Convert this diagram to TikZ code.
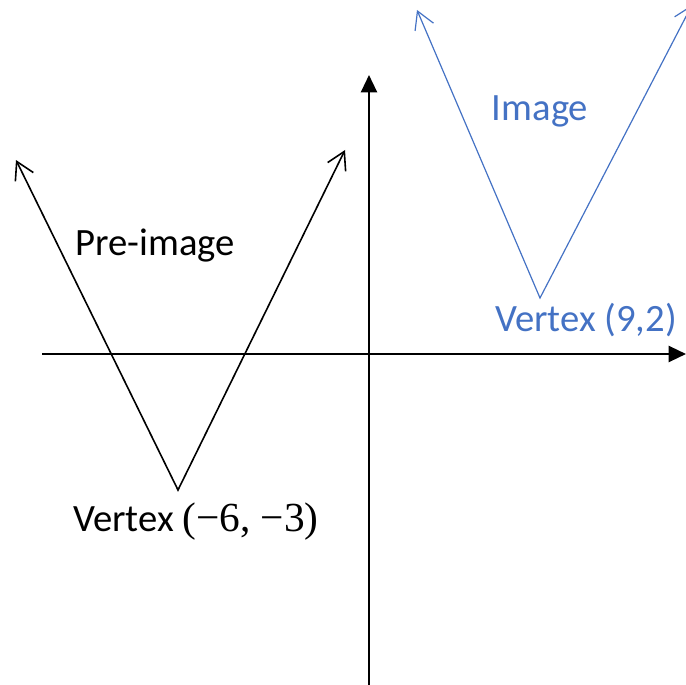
\documentclass[tikz,border=0pt]{standalone}
\definecolor{officeBlue}{RGB}{68, 114, 196}
\usepackage{fontspec}
\setmainfont{Carlito}
\newfontfamily\mathlike{Liberation Serif}
\usepackage{tikz}
\usetikzlibrary{arrows.meta}

\begin{document}
\begin{tikzpicture}[
          x=0.75pt, y=-0.75pt,
          axis/.style={line width=1.7pt, -{Triangle[length=13pt, width=12pt]}},
          graph/.style={line width=1.2pt, {Straight Barb[length=13pt, width=15pt]}-{Straight Barb[length=13pt, width=15pt]}},
          lbl/.style={font=\fontsize{29}{33}\selectfont, inner sep=0pt}
        ]
          \useasboundingbox (0,0) rectangle (686,685);
          \clip (0,0) rectangle (686,685);

          % axes
          \coordinate (xstart) at (42,354);
          \coordinate (xend) at (686,354);
          \coordinate (ystart) at (369,685);
          \coordinate (yend) at (369,75);
          \draw[axis] (xstart) -- (xend);
          \draw[axis] (ystart) -- (yend);

          % pre-image
          \coordinate (pleft) at (16,160);
          \coordinate (pvertex) at (178,490);
          \coordinate (pright) at (345,150);
          \draw[graph] (pleft) -- (pvertex) -- (pright);
          \node[lbl] (pname) at (155,246) {Pre-image};
          \node[lbl] (pvlabel) at (196,522) {Vertex {\mathlike\fontsize{31}{33}\selectfont(−6, −3)}};

          % image
          \coordinate (ileft) at (417,10);
          \coordinate (ivertex) at (540,298);
          \coordinate (iright) at (692,5);
          \draw[graph, officeBlue, line width=0.9pt] (ileft) -- (ivertex) -- (iright);
          \node[lbl, officeBlue] (iname) at (540,111) {Image};
          \node[lbl, officeBlue] (ivlabel) at (586,320) {Vertex (9,2)};
        \end{tikzpicture}
\end{document}
